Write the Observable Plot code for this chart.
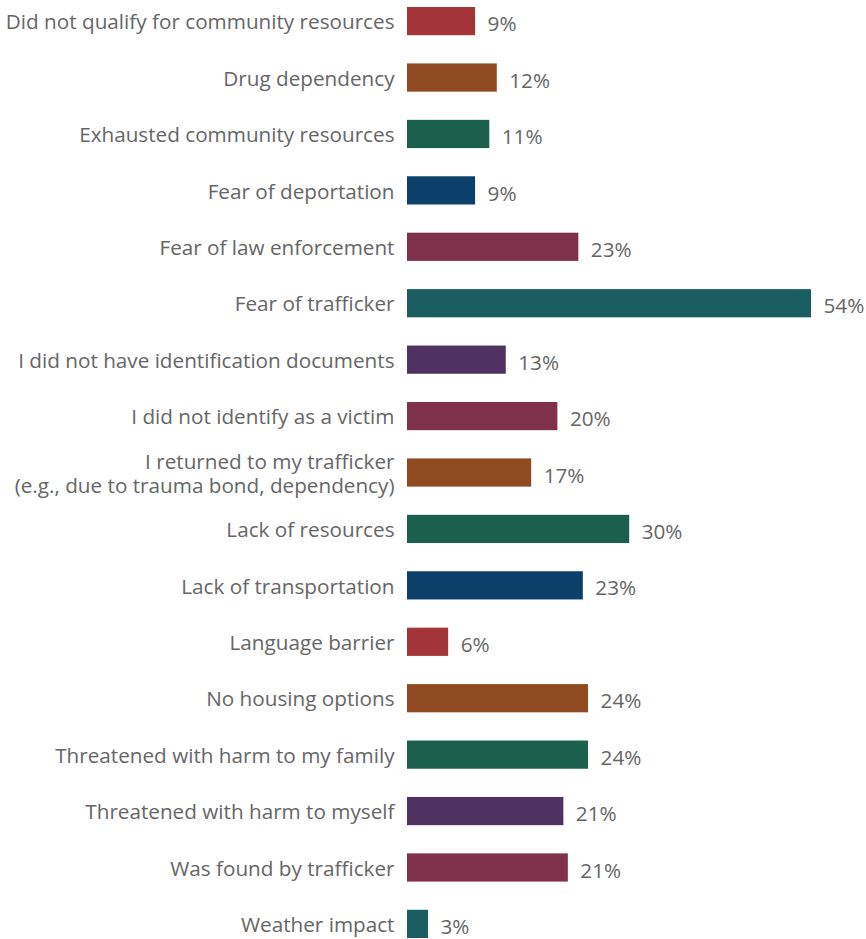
<!DOCTYPE html>
<html>
<head>
<meta charset="utf-8">
<script src="https://cdn.jsdelivr.net/npm/d3@7"></script>
<script src="https://cdn.jsdelivr.net/npm/@observablehq/plot@0.6"></script>
<style>
  html, body { margin: 0; padding: 0; background: #fff; }
  #chart { width: 866px; height: 939px; }
</style>
</head>
<body>
<div id="chart"></div>
<script>
const categories = [
  "Did not qualify for community resources",
  "Drug dependency",
  "Exhausted community resources",
  "Fear of deportation",
  "Fear of law enforcement",
  "Fear of trafficker",
  "I did not have identification documents",
  "I did not identify as a victim",
  "I returned to my trafficker\n(e.g., due to trauma bond, dependency)",
  "Lack of resources",
  "Lack of transportation",
  "Language barrier",
  "No housing options",
  "Threatened with harm to my family",
  "Threatened with harm to myself",
  "Was found by trafficker",
  "Weather impact"
];
const values = [9.1, 12.0, 11.0, 9.1, 22.9, 54.0, 13.2, 20.1, 16.6, 29.7, 23.5, 5.5, 24.2, 24.2, 20.9, 21.5, 2.8];
const labels = ["9%", "12%", "11%", "9%", "23%", "54%", "13%", "20%", "17%", "30%", "23%", "6%", "24%", "24%", "21%", "21%", "3%"];
const barColors = [
  "#A33539", "#8F4A22", "#1A604C", "#0C406A", "#7F314C", "#1A5E62", "#4F3262",
  "#7F314C", "#8F4A22", "#1A604C", "#0C406A", "#A33539", "#8F4A22", "#1A604C",
  "#4F3262", "#7F314C", "#1A5E62"
];

const data = categories.map((c, i) => ({
  category: c,
  value: values[i],
  label: labels[i],
  color: barColors[i]
}));

const chart = Plot.plot({
  width: 866,
  height: 939,
  marginLeft: 407,
  marginRight: 55,
  marginTop: 0,
  marginBottom: 0,
  style: { fontFamily: "'Open Sans', sans-serif", fontSize: "20.7px", color: "#666666", background: "#fff" },
  x: { domain: [0, 54], axis: null },
  y: { domain: categories, range: [7, 938], paddingInner: 0.5, paddingOuter: 0, round: false, axis: null },
  marks: [
    Plot.barX(data, { x: "value", y: "category", fill: "color" }),
    Plot.text(data, { x: "value", y: "category", text: "label", textAnchor: "start", dx: 12, dy: 3, fill: "#666666", fontSize: 20.7 }),
    Plot.axisY({ tickSize: 0, tickPadding: 13, fontSize: 20.7, fill: "#666666", lineHeight: 1.17, label: null })
  ]
});
document.getElementById("chart").appendChild(chart);
</script>
</body>
</html>
